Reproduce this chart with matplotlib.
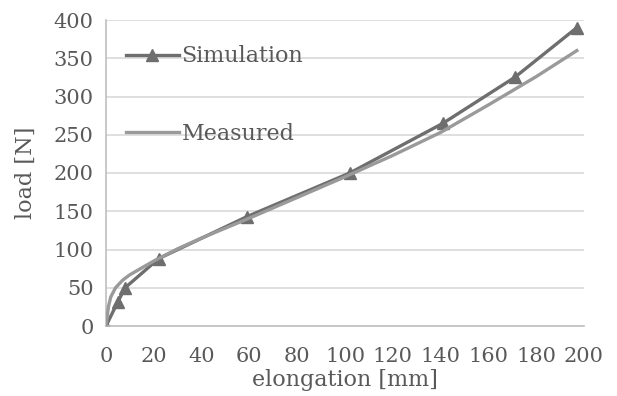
import matplotlib.pyplot as plt

# simulation points (triangles)
sim_x = [0, 5, 8, 22, 59, 102, 141, 171, 197]
sim_y = [0, 32, 50, 88, 143, 200, 265, 325, 390]

# measured curve
meas_x = [0, 1, 2, 4, 7, 10, 15, 20, 30, 40, 60, 80, 100, 120, 140, 160, 180, 197]
meas_y = [0, 25, 38, 50, 60, 67, 76, 85, 101, 115, 141, 168, 195, 223, 253, 289, 326, 360]

plt.rcParams['font.family'] = 'DejaVu Serif'
txt = '#595959'

fig = plt.figure(figsize=(6.17, 3.96), dpi=100)
ax = fig.add_axes([106/617, 1 - 326/396, 478/617, 306/396])

ax.plot(sim_x, sim_y, color='#6e6e6e', linewidth=2.4, marker='^', markersize=9,
        label='Simulation', zorder=2)
ax.plot(meas_x, meas_y, color='#9a9a9a', linewidth=2.4, label='Measured', zorder=3)

ax.set_xlim(0, 200)
ax.set_ylim(0, 400)
ax.set_xticks(range(0, 201, 20))
ax.set_yticks(range(0, 401, 50))
ax.grid(axis='y', color='#d9d9d9', linewidth=1.2)
ax.set_axisbelow(True)
for s in ['top', 'right']:
    ax.spines[s].set_visible(False)
for s in ['left', 'bottom']:
    ax.spines[s].set_color('#bfbfbf')
    ax.spines[s].set_linewidth(1.2)
ax.tick_params(length=0, labelsize=15, colors=txt, pad=9)
ax.tick_params(axis='x', pad=15)

ax.set_xlabel('elongation [mm]', fontsize=16, color=txt, labelpad=2)
ax.set_ylabel('load [N]', fontsize=16, color=txt, labelpad=12)

ax.legend(loc='upper left', bbox_to_anchor=(-0.005, 0.99), frameon=False, fontsize=16,
          labelcolor=txt, labelspacing=2.5, handlelength=2.4, handletextpad=0.1,
          borderaxespad=0.6)

fig.savefig('out.png', dpi=100)
